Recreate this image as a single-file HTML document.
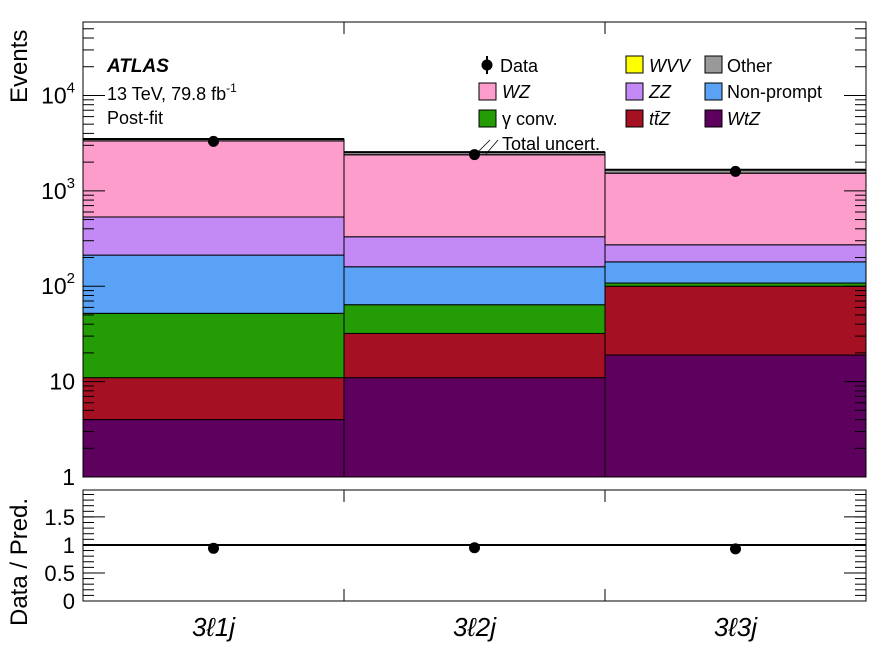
<!DOCTYPE html>
<html><head><meta charset="utf-8"><style>
body{margin:0;background:#fff;}
svg{display:block;font-family:"Liberation Sans",sans-serif;}
</style></head><body>
<svg id="c" width="896" height="672" viewBox="0 0 896 672"></svg>
<script>
const categories=["3ℓ1j","3ℓ2j","3ℓ3j"];
const wtz=[4,11,19];
const ttz=[7,21,81];
const gconv=[41,32,8];
const nonprompt=[160,96,72];
const zz=[320,170,92];
const wz=[2800,2060,1260];
const wvv=[3,3,3];
const other=[160,150,130];
const dataVals=[3300,2400,1600];
const ratioVals=[0.94,0.95,0.93];
const mainTicks=[1,10,100,1000,10000];
const mainTickBase=["1","10","10","10","10"];
const mainTickExp=["","","2","3","4"];
const ratioTicks=[0,0.5,1,1.5];
const ratioTickLabels=["0","0.5","1","1.5"];

const NS="http://www.w3.org/2000/svg";
const svg=document.getElementById('c');
function mk(t,a,p){const e=document.createElementNS(NS,t);for(const k in a)e.setAttribute(k,a[k]);(p||svg).appendChild(e);return e;}
const X0=83,X1=866,Y0=22,Y1=477,RY0=490,RY1=601;
const LMIN=0,LMAX=4.77;
const x=i=>X0+(X1-X0)*i/categories.length;
const y=v=>Y1-(Math.log10(v)-LMIN)/(LMAX-LMIN)*(Y1-Y0);
const ry=v=>RY1-v/1.98*(RY1-RY0);

const series=[
 {name:"wtz",vals:wtz,col:"#5e005e"},
 {name:"ttz",vals:ttz,col:"#a51123"},
 {name:"gamma-conv",vals:gconv,col:"#249c05"},
 {name:"non-prompt",vals:nonprompt,col:"#59a2f5"},
 {name:"zz",vals:zz,col:"#c38af5"},
 {name:"wz",vals:wz,col:"#fd9dcc"},
 {name:"wvv",vals:wvv,col:"#ffff00"},
 {name:"other",vals:other,col:"#999999"}
];
const cum=[0,0,0];
series.forEach(s=>{
 categories.forEach((c,i)=>{
  const lo=cum[i]===0?1:cum[i];
  const hi=cum[i]+s.vals[i];
  const r=mk('rect',{x:x(i),y:y(hi),width:x(i+1)-x(i),height:y(lo)-y(hi),fill:s.col,stroke:"#000","stroke-width":1});
  
  
  cum[i]=hi;
 });
});
categories.forEach((c,i)=>{
 const l=mk('line',{x1:x(i),x2:x(i+1),y1:y(cum[i]),y2:y(cum[i]),stroke:"#000","stroke-width":2});
 
 
});
mk('rect',{x:X0,y:Y0,width:X1-X0,height:Y1-Y0,fill:"none",stroke:"#000","stroke-width":1,});
mk('rect',{x:X0,y:RY0,width:X1-X0,height:RY1-RY0,fill:"none",stroke:"#000","stroke-width":1,});
mainTicks.forEach((t,k)=>{
 const yy=y(t);
 mk('line',{x1:X0,x2:X0+22,y1:yy,y2:yy,stroke:"#000"});
 mk('line',{x1:X1-22,x2:X1,y1:yy,y2:yy,stroke:"#000"});
 const tx=mk('text',{x:X0-8,y:yy+8,"text-anchor":"end","font-size":23});
 tx.textContent=mainTickBase[k];
 if(mainTickExp[k]){const ts=mk('tspan',{dy:-11,"font-size":15},tx);ts.textContent=mainTickExp[k];}
 
 
 for(let m=2;m<10;m++){const ym=y(t*m);if(ym<Y0)break;
  mk('line',{x1:X0,x2:X0+11,y1:ym,y2:ym,stroke:"#000"});mk('line',{x1:X1-11,x2:X1,y1:ym,y2:ym,stroke:"#000"});}
});
for(let i=1;i<categories.length;i++){
 mk('line',{x1:x(i),x2:x(i),y1:Y1,y2:Y1-12,stroke:"#000"});
 mk('line',{x1:x(i),x2:x(i),y1:Y0,y2:Y0+12,stroke:"#000"});
 mk('line',{x1:x(i),x2:x(i),y1:RY1,y2:RY1-12,stroke:"#000"});
 mk('line',{x1:x(i),x2:x(i),y1:RY0,y2:RY0+12,stroke:"#000"});
}
dataVals.forEach((v,i)=>{
 const cx=(x(i)+x(i+1))/2;
 const p=mk('circle',{cx:cx,cy:y(v),r:5.5,fill:"#000"});
 
 
});
ratioTicks.forEach((t,k)=>{
 const yy=ry(t);
 mk('line',{x1:X0,x2:X0+22,y1:yy,y2:yy,stroke:"#000"});
 mk('line',{x1:X1-22,x2:X1,y1:yy,y2:yy,stroke:"#000"});
 const tx=mk('text',{x:X0-8,y:yy+8,"text-anchor":"end","font-size":22});
 tx.textContent=ratioTickLabels[k];
 
 
});
for(let t=0.1;t<1.98;t+=0.1){const yy=ry(t);mk('line',{x1:X0,x2:X0+11,y1:yy,y2:yy,stroke:"#000"});mk('line',{x1:X1-11,x2:X1,y1:yy,y2:yy,stroke:"#000"});}
mk('line',{x1:X0,x2:X1,y1:ry(1),y2:ry(1),stroke:"#000","stroke-width":2,});
ratioVals.forEach((v,i)=>{
 const cx=(x(i)+x(i+1))/2;
 const p=mk('circle',{cx:cx,cy:ry(v),r:5.5,fill:"#000"});
 
 
});
categories.forEach((c,i)=>{
 const t=mk('text',{x:(x(i)+x(i+1))/2,y:636,"text-anchor":"middle","font-size":26,"font-style":"italic"});
 t.textContent=c;
 
 
});
</script>
<svg width="896" height="672" style="position:absolute;left:0;top:0" font-family="Liberation Sans, sans-serif">
<text transform="translate(27,103) rotate(-90)" font-size="24">Events</text>
<text transform="translate(27,626) rotate(-90)" font-size="24">Data / Pred.</text>
<text x="107" y="72" font-size="19" font-weight="bold" font-style="italic">ATLAS</text>
<text x="107" y="100" font-size="18">13 TeV, 79.8 fb<tspan dy="-8" font-size="12">-1</tspan></text>
<text x="107" y="124" font-size="18">Post-fit</text>
<g font-size="18">
 <g><line x1="487" x2="487" y1="56" y2="74" stroke="#000" stroke-width="2"/><circle cx="487" cy="65" r="5.5"/><text x="500" y="72">Data</text></g>
 <g><rect x="479" y="83" width="17" height="17" fill="#fd9dcc" stroke="#000"/><text x="502" y="98" font-style="italic">WZ</text></g>
 <g><rect x="479" y="110" width="17" height="17" fill="#249c05" stroke="#000"/><text x="502" y="125">γ conv.</text></g>
 <g><line x1="478" y1="152" x2="490" y2="140" stroke="#000" stroke-width="0.8"/><line x1="486" y1="154" x2="498" y2="140" stroke="#000" stroke-width="0.8"/><text x="502" y="150">Total uncert.</text></g>
 <g><rect x="626" y="56" width="17" height="17" fill="#ffff00" stroke="#000"/><text x="649" y="72" font-style="italic">WVV</text></g>
 <g><rect x="626" y="83" width="17" height="17" fill="#c38af5" stroke="#000"/><text x="649" y="98" font-style="italic">ZZ</text></g>
 <g><rect x="626" y="110" width="17" height="17" fill="#a51123" stroke="#000"/><text x="649" y="125" font-style="italic">tt̄Z</text></g>
 <g><rect x="705" y="56" width="17" height="17" fill="#999" stroke="#000"/><text x="727" y="72">Other</text></g>
 <g><rect x="705" y="83" width="17" height="17" fill="#59a2f5" stroke="#000"/><text x="727" y="98">Non-prompt</text></g>
 <g><rect x="705" y="110" width="17" height="17" fill="#5e005e" stroke="#000"/><text x="727" y="125" font-style="italic">WtZ</text></g>
</g>
</svg>
</body></html>
